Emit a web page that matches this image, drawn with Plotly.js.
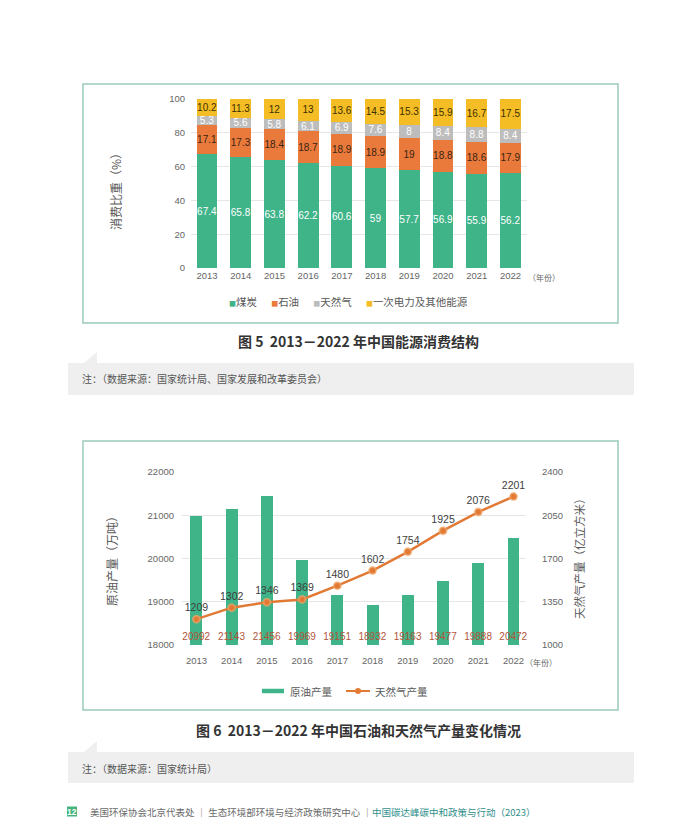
<!DOCTYPE html>
<html><head><meta charset="utf-8">
<script src="https://cdn.plot.ly/plotly-3.0.1.min.js"></script>
<style>html,body{margin:0;padding:0;background:#fff;}#chart{width:700px;height:822px;}</style>
</head><body><div id="chart"></div>
<script>
// ---- data ----
const years = ['2013','2014','2015','2016','2017','2018','2019','2020','2021','2022'];
const coal  = [67.4, 65.8, 63.8, 62.2, 60.6, 59, 57.7, 56.9, 55.9, 56.2];
const oil   = [17.1, 17.3, 18.4, 18.7, 18.9, 18.9, 19, 18.8, 18.6, 17.9];
const gas   = [5.3, 5.6, 5.8, 6.1, 6.9, 7.6, 8, 8.4, 8.8, 8.4];
const other = [10.2, 11.3, 12, 13, 13.6, 14.5, 15.3, 15.9, 16.7, 17.5];
const crudeOutput = [20992, 21143, 21456, 19969, 19151, 18932, 19163, 19477, 19888, 20472];
const gasOutput   = [1209, 1302, 1346, 1369, 1480, 1602, 1754, 1925, 2076, 2201];
const crudeBase = 18000;

// ---- helpers ----
const W = 700, H = 822;
const px = x => x / W, py = y => 1 - y / H;
const NUM = 'Liberation Sans, Noto Sans CJK SC, sans-serif';
const CJK = 'Noto Sans CJK SC, Liberation Sans, sans-serif';
const C = {coal:'#3fb489', oil:'#ea7a3b', gas:'#bdbdbd', other:'#f4bd25', line:'#e27a36', frame:'#9ccabd', note:'#efefef'};
const tickGray = '#666666';

function stackTrace(name, vals, color, txtColor) {
  return {type:'bar', name, x:years, y:vals, xaxis:'x', yaxis:'y',
    marker:{color, line:{width:0}}, width:0.62,
    text: vals.map(String), textposition:'inside', insidetextanchor:'middle',
    textangle:0, constraintext:'none',
    textfont:{family:NUM, size:10, color:txtColor}, hoverinfo:'skip'};
}

const traces = [
  stackTrace('煤炭', coal, C.coal, '#ffffff'),
  stackTrace('石油', oil, C.oil, '#3a2414'),
  stackTrace('天然气', gas, C.gas, '#ffffff'),
  stackTrace('一次电力及其他能源', other, C.other, '#3d3000'),
  {type:'bar', name:'原油产量', x:years, base:crudeBase, y:crudeOutput.map(v => v - crudeBase),
    xaxis:'x2', yaxis:'y2', width:0.34, marker:{color:C.coal},
    text:crudeOutput.map(String), textposition:'inside', insidetextanchor:'start',
    textangle:0, constraintext:'none', cliponaxis:false,
    textfont:{family:NUM, size:10, color:'#b0553a'}, hoverinfo:'skip'},
  {type:'scatter', name:'天然气产量', x:years, y:gasOutput, xaxis:'x2', yaxis:'y3',
    mode:'lines+markers+text', line:{color:C.line, width:2.5},
    marker:{color:C.line, size:7, line:{color:'rgba(240,170,110,0.6)', width:2}},
    text:gasOutput.map(String), textposition:'top center', cliponaxis:false,
    textfont:{family:NUM, size:10.5, color:'#404040'}, hoverinfo:'skip'}
];

const shapes = [
  // frames
  {type:'rect', xref:'paper', yref:'paper', x0:px(83), x1:px(618), y0:py(84), y1:py(323), line:{color:C.frame, width:1.5}, layer:'below'},
  {type:'rect', xref:'paper', yref:'paper', x0:px(83), x1:px(618), y0:py(441), y1:py(710), line:{color:C.frame, width:1.5}, layer:'below'},
  // note boxes
  {type:'rect', xref:'paper', yref:'paper', x0:px(68), x1:px(634), y0:py(363), y1:py(395), fillcolor:C.note, line:{width:0}, layer:'below'},
  {type:'path', xref:'paper', yref:'paper', path:`M ${px(84)},${py(363)} L ${px(97)},${py(352)} L ${px(97)},${py(363)} Z`, fillcolor:C.note, line:{width:0}, layer:'below'},
  {type:'rect', xref:'paper', yref:'paper', x0:px(68), x1:px(634), y0:py(752), y1:py(783), fillcolor:C.note, line:{width:0}, layer:'below'},
  {type:'path', xref:'paper', yref:'paper', path:`M ${px(84)},${py(752)} L ${px(97)},${py(741)} L ${px(97)},${py(752)} Z`, fillcolor:C.note, line:{width:0}, layer:'below'},
  // footer page-number square
  {type:'rect', xref:'paper', yref:'paper', x0:px(67), x1:px(77), y0:py(806.5), y1:py(816.5), fillcolor:'#45b47c', line:{width:0}},
  // chart 2 legend keys
  {type:'line', xref:'paper', yref:'paper', x0:px(262), x1:px(284), y0:py(691), y1:py(691), line:{color:C.coal, width:4.5}},
  {type:'line', xref:'paper', yref:'paper', x0:px(346), x1:px(370), y0:py(691), y1:py(691), line:{color:C.line, width:2}},
  {type:'circle', xref:'paper', yref:'paper', x0:px(355), x1:px(361), y0:py(694), y1:py(688), fillcolor:C.line, line:{width:0}}
];

const sq = c => `<span style="color:${c};font-size:7px">■</span>`;
const sp = '&nbsp;'.repeat(6);
const ann = (x, y, text, opts={}) => Object.assign({xref:'paper', yref:'paper', x:px(x), y:py(y), text, showarrow:false,
  xanchor:'center', yanchor:'middle', font:{family:CJK, size:10.5, color:'#595959'}}, opts);

const annotations = [
  ann(115, 189, '消费比重（%）', {textangle:-90, font:{family:CJK, size:12, color:'#595959'}}),
  ann(544, 277, '（年份）', {font:{family:CJK, size:8, color:'#666'}}),
  ann(348, 301, `${sq(C.coal)}煤炭${sp}${sq(C.oil)}石油${sp}${sq(C.gas)}天然气${sp}${sq(C.other)}一次电力及其他能源`),
  ann(358, 341, '图 5  2013－2022 年中国能源消费结构', {font:{family:CJK, size:14, color:'#333', weight:'bold'}}),
  ann(80, 378, '注：（数据来源：国家统计局、国家发展和改革委员会）', {xanchor:'left', font:{family:CJK, size:10, color:'#555'}}),

  ann(111, 558, '原油产量（万吨）', {textangle:-90, font:{family:CJK, size:12, color:'#595959'}}),
  ann(579, 556, '天然气产量（亿立方米）', {textangle:-90, font:{family:CJK, size:11.5, color:'#595959'}}),
  ann(541, 662, '（年份）', {font:{family:CJK, size:8, color:'#666'}}),
  ann(288, 691, '原油产量', {xanchor:'left'}),
  ann(373, 691, '天然气产量', {xanchor:'left'}),
  ann(358, 730, '图 6  2013－2022 年中国石油和天然气产量变化情况', {font:{family:CJK, size:14, color:'#333', weight:'bold'}}),
  ann(80, 768, '注：（数据来源：国家统计局）', {xanchor:'left', font:{family:CJK, size:10, color:'#555'}}),

  ann(72, 811.5, '12', {font:{family:NUM, size:8.5, color:'#fff', weight:'bold'}}),
  ann(88, 811.5, '美国环保协会北京代表处 ｜ 生态环境部环境与经济政策研究中心 ｜<span style="color:#2f8f8c">中国碳达峰碳中和政策与行动（2023）</span>',
      {xanchor:'left', font:{family:CJK, size:9.5, color:'#6a6a6a'}})
];

const tickFont = {family:NUM, size:9.5, color:tickGray};
const layout = {
  width:W, height:H, margin:{l:0, r:0, t:0, b:0},
  paper_bgcolor:'#ffffff', plot_bgcolor:'rgba(0,0,0,0)',
  showlegend:false, barmode:'stack', hovermode:false,
  xaxis:{domain:[px(191), px(527)], anchor:'y', type:'category', range:[-0.475, 9.49],
    showgrid:false, zeroline:false, showline:false, ticks:'', tickfont:tickFont},
  yaxis:{domain:[py(268), py(99)], anchor:'x', range:[0, 100], dtick:20, tick0:0,
    gridcolor:'#e6e6e6', gridwidth:1, zeroline:false, showline:false, ticks:'',
    tickfont:tickFont, ticklabelstandoff:5},
  xaxis2:{domain:[px(182), px(526)], anchor:'y2', type:'category', range:[-0.41, 9.355],
    showgrid:false, zeroline:false, showline:false, ticks:'', tickfont:tickFont, ticklabelstandoff:8},
  yaxis2:{domain:[py(645), py(472)], anchor:'x2', range:[18000, 22000], dtick:1000, tick0:18000,
    tickformat:'d', gridcolor:'#e6e6e6', zeroline:false, showline:false, ticks:'',
    tickfont:tickFont, ticklabelstandoff:7},
  yaxis3:{overlaying:'y2', anchor:'x2', side:'right', range:[1000, 2400], dtick:350, tick0:1000,
    tickformat:'d', showgrid:false, zeroline:false, showline:false, ticks:'',
    tickfont:tickFont, ticklabelstandoff:15},
  shapes, annotations
};

Plotly.newPlot('chart', traces, layout, {staticPlot:true, displayModeBar:false});
</script>
</body></html>
